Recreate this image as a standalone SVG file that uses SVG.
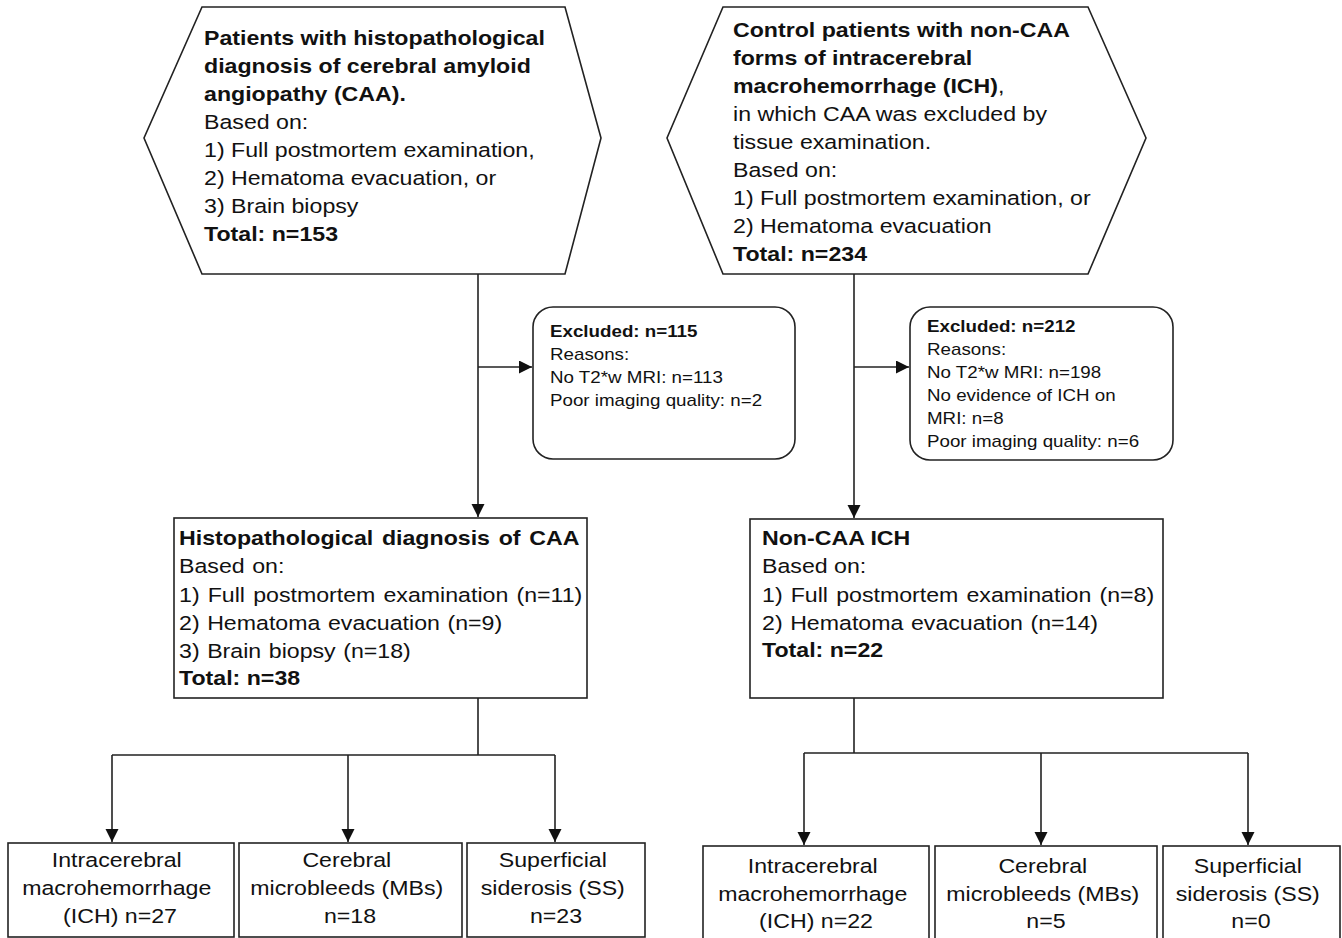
<svg xmlns="http://www.w3.org/2000/svg" width="1342" height="938" viewBox="0 0 1342 938">
<style>
.t{font-family:"Liberation Sans",Arial,sans-serif;font-size:20.5px;fill:#111}
.s{font-size:16.6px}
.b{font-weight:bold}
.m{text-anchor:middle}
.box{fill:#fff;stroke:#222;stroke-width:1.6}
.ln{fill:none;stroke:#222;stroke-width:1.6}
</style>
<defs>
<marker id="ah" markerUnits="userSpaceOnUse" markerWidth="14" markerHeight="14" refX="13" refY="6.5" orient="auto">
<path d="M0,0 L13,6.5 L0,13 z" fill="#111"/>
</marker>
</defs>
<rect width="1342" height="938" fill="#fff"/>
<g id="connectors">
<path class="ln" d="M478,274 V517" marker-end="url(#ah)"/>
<path class="ln" d="M478,367 H532" marker-end="url(#ah)"/>
<path class="ln" d="M854,274 V518" marker-end="url(#ah)"/>
<path class="ln" d="M854,367 H909" marker-end="url(#ah)"/>
<path class="ln" d="M478,698 V755 M112,755 H555"/>
<path class="ln" d="M112,755 V842" marker-end="url(#ah)"/>
<path class="ln" d="M348,755 V842" marker-end="url(#ah)"/>
<path class="ln" d="M555,755 V842" marker-end="url(#ah)"/>
<path class="ln" d="M854,698 V753 M804,753 H1248"/>
<path class="ln" d="M804,753 V845" marker-end="url(#ah)"/>
<path class="ln" d="M1041,753 V845" marker-end="url(#ah)"/>
<path class="ln" d="M1248,753 V845" marker-end="url(#ah)"/>
</g>
<g id="hexCAA">
<polygon class="box" points="202,7 565,7 601,138 565,274 202,274 144,138"/>
<text class="t" transform="matrix(1.13 0 0 1 204 0)">
<tspan class="b" x="0" y="45">Patients with histopathological</tspan>
<tspan class="b" x="0" y="73">diagnosis of cerebral amyloid</tspan>
<tspan class="b" x="0" y="101">angiopathy (CAA).</tspan>
<tspan x="0" y="129">Based on:</tspan>
<tspan x="0" y="157">1) Full postmortem examination,</tspan>
<tspan x="0" y="185">2) Hematoma evacuation, or</tspan>
<tspan x="0" y="213">3) Brain biopsy</tspan>
<tspan class="b" x="0" y="241">Total: n=153</tspan>
</text>
</g>
<g id="hexControl">
<polygon class="box" points="723,7 1088,7 1146,138 1088,274 723,274 667,138"/>
<text class="t" transform="matrix(1.13 0 0 1 733 0)">
<tspan class="b" x="0" y="37">Control patients with non-CAA</tspan>
<tspan class="b" x="0" y="65">forms of intracerebral</tspan>
<tspan x="0" y="93"><tspan class="b">macrohemorrhage (ICH)</tspan>,</tspan>
<tspan x="0" y="121">in which CAA was excluded by</tspan>
<tspan x="0" y="149">tissue examination.</tspan>
<tspan x="0" y="177">Based on:</tspan>
<tspan x="0" y="205">1) Full postmortem examination, or</tspan>
<tspan x="0" y="233">2) Hematoma evacuation</tspan>
<tspan class="b" x="0" y="261">Total: n=234</tspan>
</text>
</g>
<g id="exclCAA">
<rect class="box" x="533" y="307" width="262" height="152" rx="20"/>
<text class="t s" transform="matrix(1.13 0 0 1 550 0)">
<tspan class="b" x="0" y="337">Excluded: n=115</tspan>
<tspan x="0" y="360">Reasons:</tspan>
<tspan x="0" y="383">No T2*w MRI: n=113</tspan>
<tspan x="0" y="406">Poor imaging quality: n=2</tspan>
</text>
</g>
<g id="exclControl">
<rect class="box" x="910" y="307" width="263" height="153" rx="20"/>
<text class="t s" transform="matrix(1.13 0 0 1 927 0)">
<tspan class="b" x="0" y="332">Excluded: n=212</tspan>
<tspan x="0" y="355">Reasons:</tspan>
<tspan x="0" y="378">No T2*w MRI: n=198</tspan>
<tspan x="0" y="401">No evidence of ICH on</tspan>
<tspan x="0" y="424">MRI: n=8</tspan>
<tspan x="0" y="447">Poor imaging quality: n=6</tspan>
</text>
</g>
<g id="histoCAA">
<rect class="box" x="174" y="518" width="413" height="180"/>
<text class="t" transform="matrix(1.13 0 0 1 179 0)">
<tspan class="b" x="0" y="545" word-spacing="2">Histopathological diagnosis of CAA</tspan>
<tspan x="0" y="573" word-spacing="1">Based on:</tspan>
<tspan x="0" y="602" word-spacing="1.5">1) Full postmortem examination (n=11)</tspan>
<tspan x="0" y="630" word-spacing="1">2) Hematoma evacuation (n=9)</tspan>
<tspan x="0" y="658" word-spacing="1">3) Brain biopsy (n=18)</tspan>
<tspan class="b" x="0" y="685">Total: n=38</tspan>
</text>
</g>
<g id="nonCAA">
<rect class="box" x="750" y="519" width="413" height="179"/>
<text class="t" transform="matrix(1.13 0 0 1 762 0)">
<tspan class="b" x="0" y="545">Non-CAA ICH</tspan>
<tspan x="0" y="573">Based on:</tspan>
<tspan x="0" y="602" word-spacing="1.5">1) Full postmortem examination (n=8)</tspan>
<tspan x="0" y="630" word-spacing="1">2) Hematoma evacuation (n=14)</tspan>
<tspan class="b" x="0" y="657">Total: n=22</tspan>
</text>
</g>
<g id="caaICH">
<rect class="box" x="8" y="843" width="226" height="94"/>
<text class="t m" transform="matrix(1.13 0 0 1 120 0)">
<tspan x="0" y="867">Intracerebral</tspan>
<tspan x="0" y="895">macrohemorrhage</tspan>
<tspan x="0" y="923">(ICH) n=27</tspan>
</text>
</g>
<g id="caaMB">
<rect class="box" x="239" y="843" width="223" height="94"/>
<text class="t m" transform="matrix(1.13 0 0 1 350 0)">
<tspan x="0" y="867">Cerebral</tspan>
<tspan x="0" y="895">microbleeds (MBs)</tspan>
<tspan x="0" y="923">n=18</tspan>
</text>
</g>
<g id="caaSS">
<rect class="box" x="467" y="843" width="178" height="94"/>
<text class="t m" transform="matrix(1.13 0 0 1 556 0)">
<tspan x="0" y="867">Superficial</tspan>
<tspan x="0" y="895">siderosis (SS)</tspan>
<tspan x="0" y="923">n=23</tspan>
</text>
</g>
<g id="ctrlICH">
<rect class="box" x="703" y="846" width="226" height="96"/>
<text class="t m" transform="matrix(1.13 0 0 1 816 0)">
<tspan x="0" y="873">Intracerebral</tspan>
<tspan x="0" y="901">macrohemorrhage</tspan>
<tspan x="0" y="928">(ICH) n=22</tspan>
</text>
</g>
<g id="ctrlMB">
<rect class="box" x="935" y="846" width="222" height="96"/>
<text class="t m" transform="matrix(1.13 0 0 1 1046 0)">
<tspan x="0" y="873">Cerebral</tspan>
<tspan x="0" y="901">microbleeds (MBs)</tspan>
<tspan x="0" y="928">n=5</tspan>
</text>
</g>
<g id="ctrlSS">
<rect class="box" x="1163" y="846" width="177" height="96"/>
<text class="t m" transform="matrix(1.13 0 0 1 1251 0)">
<tspan x="0" y="873">Superficial</tspan>
<tspan x="0" y="901">siderosis (SS)</tspan>
<tspan x="0" y="928">n=0</tspan>
</text>
</g>
</svg>
